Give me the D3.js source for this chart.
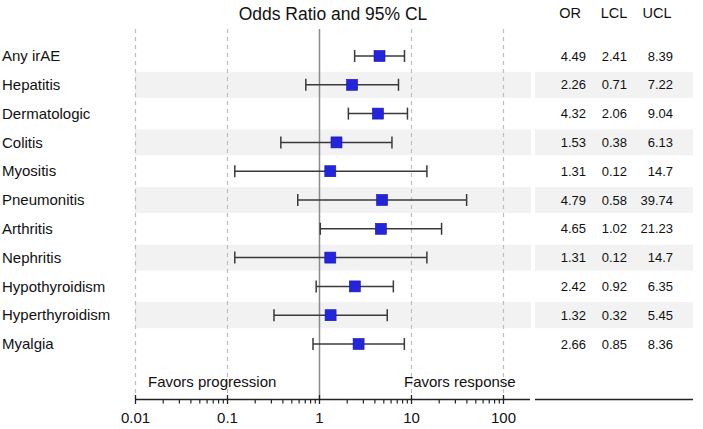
<!DOCTYPE html>
<html>
<head>
<meta charset="utf-8">
<script src="https://cdn.jsdelivr.net/npm/d3@7"></script>
<style>
  html, body { margin: 0; padding: 0; background: #fff; }
  text { font-family: "Liberation Sans", Arial, sans-serif; fill: #111; }
</style>
</head>
<body>
<svg id="chart" width="703" height="429"></svg>
<script>
const categories = ["Any irAE","Hepatitis","Dermatologic","Colitis","Myositis","Pneumonitis","Arthritis","Nephritis","Hypothyroidism","Hyperthyroidism","Myalgia"];
const orValues  = [4.49, 2.26, 4.32, 1.53, 1.31, 4.79, 4.65, 1.31, 2.42, 1.32, 2.66];
const lclValues = [2.41, 0.71, 2.06, 0.38, 0.12, 0.58, 1.02, 0.12, 0.92, 0.32, 0.85];
const uclValues = [8.39, 7.22, 9.04, 6.13, 14.7, 39.74, 21.23, 14.7, 6.35, 5.45, 8.36];
const orLabels  = ["4.49","2.26","4.32","1.53","1.31","4.79","4.65","1.31","2.42","1.32","2.66"];
const lclLabels = ["2.41","0.71","2.06","0.38","0.12","0.58","1.02","0.12","0.92","0.32","0.85"];
const uclLabels = ["8.39","7.22","9.04","6.13","14.7","39.74","21.23","14.7","6.35","5.45","8.36"];
const majorTicks = [0.01, 0.1, 1, 10, 100];
const tickLabels = ["0.01","0.1","1","10","100"];
const refLines = [0.01, 0.1, 10, 100];
const columns = ["OR","LCL","UCL"];

const svg = d3.select("#chart");
const x = d3.scaleLog().domain([0.01, 100]).range([135.5, 503.5]);
const y = d3.scaleBand().domain(categories).range([41.6, 358.4]);
const yc = d => y(d) + y.bandwidth() / 2;

const plotLeft = 135, plotRight = 531, tableLeft = 535, tableRight = 693;
const axisY = 399.5, topY = 29;

// alternating bands
const bandH = 26;
categories.forEach((c, i) => {
  if (i % 2 === 1) {
    svg.append("rect").attr("x", plotLeft).attr("y", yc(c) - bandH/2)
      .attr("width", plotRight - plotLeft).attr("height", bandH).attr("fill", "#f2f2f2");
    svg.append("rect").attr("x", tableLeft).attr("y", yc(c) - bandH/2)
      .attr("width", tableRight - tableLeft).attr("height", bandH).attr("fill", "#f2f2f2");
  }
});

// reference lines
svg.selectAll("line.ref").data(refLines).enter().append("line")
  .attr("x1", d => x(d)).attr("x2", d => x(d))
  .attr("y1", topY).attr("y2", axisY)
  .attr("stroke", "#bdbdbd").attr("stroke-width", 1.2).attr("stroke-dasharray", "4,4");
svg.append("line").attr("x1", x(1)).attr("x2", x(1)).attr("y1", topY).attr("y2", axisY)
  .attr("stroke", "#8a8a8a").attr("stroke-width", 1.5);

// title
svg.append("text").attr("x", 333).attr("y", 20).attr("text-anchor", "middle")
  .style("font-size", "17.5px").text("Odds Ratio and 95% CL");

// column headers
const colX = [586, 627, 673];
const colHeadX = [570, 614, 657];
columns.forEach((c, i) => {
  svg.append("text").attr("x", colHeadX[i]).attr("y", 18).attr("text-anchor", "middle")
    .style("font-size", "14.5px").text(c);
});

// category labels
svg.selectAll("text.cat").data(categories).enter().append("text")
  .attr("x", 2).attr("y", d => yc(d)).attr("dy", "0.35em")
  .style("font-size", "15px").text(d => d);

// error bars
const capH = 6;
categories.forEach((c, i) => {
  const g = svg.append("g");
  const cy = yc(c);
  g.append("line").attr("x1", x(lclValues[i])).attr("x2", x(uclValues[i]))
    .attr("y1", cy).attr("y2", cy).attr("stroke", "#3a3a3a").attr("stroke-width", 1.5);
  [lclValues[i], uclValues[i]].forEach(v => {
    g.append("line").attr("x1", x(v)).attr("x2", x(v))
      .attr("y1", cy - capH).attr("y2", cy + capH).attr("stroke", "#3a3a3a").attr("stroke-width", 1.5);
  });
  const s = 11;
  g.append("rect").attr("x", x(orValues[i]) - s/2).attr("y", cy - s/2)
    .attr("width", s).attr("height", s).attr("fill", "#2424dc").attr("stroke", "#1818a8").attr("stroke-width", 0.6);
});

// table values
const tables = [orLabels, lclLabels, uclLabels];
tables.forEach((arr, j) => {
  svg.selectAll("text.col" + j).data(arr).enter().append("text")
    .attr("x", colX[j]).attr("y", (d, i) => yc(categories[i])).attr("dy", "0.35em")
    .attr("text-anchor", "end").style("font-size", "13px").text(d => d);
});

// favors text
svg.append("text").attr("x", 148).attr("y", 382).attr("dy", "0.35em")
  .style("font-size", "15px").text("Favors progression");
svg.append("text").attr("x", 404).attr("y", 382).attr("dy", "0.35em")
  .style("font-size", "15px").text("Favors response");

// axis
svg.append("line").attr("x1", plotLeft).attr("x2", 530).attr("y1", axisY).attr("y2", axisY)
  .attr("stroke", "#222").attr("stroke-width", 1.3);
svg.append("line").attr("x1", tableLeft).attr("x2", tableRight).attr("y1", axisY).attr("y2", axisY)
  .attr("stroke", "#222").attr("stroke-width", 1.3);

const minorTicks = [];
[0.01, 0.1, 1, 10].forEach(base => { for (let k = 2; k <= 9; k++) minorTicks.push(base * k); });
svg.selectAll("line.minor").data(minorTicks).enter().append("line")
  .attr("x1", d => x(d)).attr("x2", d => x(d)).attr("y1", axisY).attr("y2", axisY + 4)
  .attr("stroke", "#222").attr("stroke-width", 1.2);
svg.selectAll("line.major").data(majorTicks).enter().append("line")
  .attr("x1", d => x(d)).attr("x2", d => x(d)).attr("y1", axisY - 4.5).attr("y2", axisY + 4.5)
  .attr("stroke", "#222").attr("stroke-width", 1.3);
svg.selectAll("text.tick").data(majorTicks).enter().append("text")
  .attr("x", d => x(d)).attr("y", 418).attr("dy", "0.35em").attr("text-anchor", "middle")
  .style("font-size", "15px").text((d, i) => tickLabels[i]);
</script>
</body>
</html>
